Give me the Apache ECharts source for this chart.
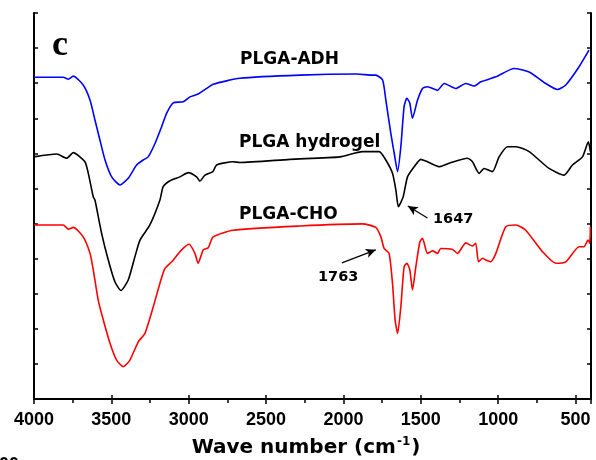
<!DOCTYPE html>
<html><head><meta charset="utf-8">
<script src="https://cdn.jsdelivr.net/npm/echarts@6/dist/echarts.min.js"></script>
<style>html,body{margin:0;padding:0;background:#fff}#c{width:596px;height:460px}</style>
</head><body><div id="c"></div>
<script>
// Wavenumbers (cm-1) and offset transmittance (arbitrary units, tick = 1)
const adhWn = [4000,3811,3778,3746,3682,3638,3606,3574,3541,3498,3444,3391,3337,3294,3262,3218,3175,3143,3100,3036,2992,2939,2884,2842,2669,2282,1915,1810,1791,1747,1726,1694,1672,1650,1629,1608,1590,1571,1554,1521,1489,1457,1392,1349,1274,1209,1156,1112,1015,897,800,692,617,563,477,413];
const adhT = [9.17,9.17,9.11,9.20,8.95,8.52,7.95,7.38,6.81,6.33,6.10,6.29,6.67,6.81,6.90,7.28,7.76,8.14,8.44,8.47,8.61,8.69,8.85,8.97,9.14,9.23,9.26,9.23,9.23,9.09,8.52,7.58,7.01,6.48,7.19,8.33,8.57,8.43,8.00,8.52,8.85,8.90,8.80,8.99,8.85,8.99,8.92,9.04,9.18,9.42,9.32,8.99,8.82,8.95,9.47,9.94];
const gelWn = [4000,3853,3789,3746,3671,3649,3617,3606,3563,3520,3477,3438,3391,3348,3315,3251,3186,3165,3121,3057,3003,2949,2928,2895,2844,2820,2714,2669,2346,2023,1877,1769,1726,1683,1661,1645,1614,1586,1543,1500,1457,1382,1317,1198,1166,1123,1091,1037,994,940,886,800,671,574,520,455,417,404];
const gelT = [6.90,6.98,6.86,7.02,6.76,6.43,5.76,5.67,4.72,3.96,3.34,3.09,3.39,4.05,4.53,4.96,5.67,6.05,6.22,6.33,6.45,6.33,6.21,6.38,6.48,6.67,6.76,6.74,6.83,6.90,7.05,7.05,6.81,6.43,5.95,5.48,5.76,6.33,6.62,6.83,6.76,6.62,6.72,6.86,6.76,6.43,6.57,6.48,6.90,7.19,7.19,7.05,6.57,6.38,6.67,6.90,7.33,7.05];
const choWn = [4000,3811,3778,3746,3682,3638,3617,3585,3552,3509,3466,3423,3380,3326,3283,3229,3186,3154,3110,3046,2997,2960,2939,2906,2874,2842,2713,2282,1877,1791,1758,1737,1705,1683,1666,1650,1629,1608,1590,1571,1554,1532,1506,1489,1457,1424,1392,1371,1295,1263,1209,1166,1145,1127,1101,1080,1048,1015,951,886,822,714,628,563,477,445,419,408,404];
const choT = [4.96,4.96,4.84,4.89,4.62,4.15,3.68,2.82,2.25,1.59,1.11,0.92,1.11,1.63,1.87,2.63,3.30,3.72,3.91,4.25,4.41,4.15,3.87,4.25,4.31,4.62,4.81,4.93,4.99,4.89,4.62,4.29,4.15,3.30,2.25,1.87,2.63,3.77,3.87,3.68,3.11,3.77,4.48,4.58,4.15,4.22,4.15,4.29,4.26,4.15,4.45,4.36,4.44,3.91,4.01,3.96,3.91,4.15,4.91,4.96,4.81,4.20,3.87,3.91,4.34,4.34,4.53,4.44,4.91];
const seriesNames = ['PLGA-ADH','PLGA hydrogel','PLGA-CHO'];
const seriesColors = ['#0000ff','#000000','#ff0000'];
// annotation arrows: [tail wn, tail T, head wn, head T]
const arrow1647 = [1457, 5.16, 1584, 5.50];
const arrow1763 = [2010, 3.88, 1791, 4.25];

const toPts = (wn, t) => wn.map((w, i) => [-w, t[i]]);
const chart = echarts.init(document.getElementById('c'), null, {renderer: 'canvas'});
const axisLine = {show: true, lineStyle: {color: '#000', width: 2}};
const lblFont = 'bold 17px "DejaVu Sans", sans-serif';
const mk = (a) => ({
  silent: true, symbol: ['none', 'arrow'], symbolSize: [7, 10],
  label: {show: false},
  lineStyle: {color: '#000', width: 1.2, type: 'solid'},
  data: [[{coord: [-a[0], a[1]]}, {coord: [-a[2], a[3]]}]]
});
const line = (i, wn, t, extra) => Object.assign({
  name: seriesNames[i], type: 'line', data: toPts(wn, t), showSymbol: false,
  smooth: 0.2, lineStyle: {color: seriesColors[i], width: 1.6}, itemStyle: {color: seriesColors[i]}
}, extra || {});
const option = {
  animation: false,
  backgroundColor: '#fff',
  grid: {left: 34, right: 5, top: 13, bottom: 61, containLabel: false},
  xAxis: [
    {type: 'value', position: 'bottom', min: -4000, max: -400, interval: 500,
     axisLine, splitLine: {show: false},
     axisTick: {show: true, inside: false, length: 5, lineStyle: {width: 1.5, color: '#000'}},
     minorTick: {show: true, splitNumber: 2, length: 3, lineStyle: {width: 1.5, color: '#000'}},
     axisLabel: {show: true, margin: 12, color: '#000', fontSize: 18, fontWeight: 'bold',
       fontFamily: '"Liberation Sans", Arial, sans-serif',
       formatter: v => (v > -450 ? '' : String(-v))}},
    {type: 'value', position: 'top', min: -4000, max: -400, interval: 250,
     axisLine, splitLine: {show: false},
     axisTick: {show: true, inside: true, length: 4, lineStyle: {width: 1.5, color: '#000'}},
     axisLabel: {show: false}},
    {type: 'value', position: 'bottom', min: -4000, max: -400, interval: 500,
     axisLine: {show: false}, splitLine: {show: false},
     axisTick: {show: true, inside: true, length: 4, lineStyle: {width: 1.5, color: '#000'}},
     axisLabel: {show: false}}
  ],
  yAxis: [
    {type: 'value', position: 'left', min: 0, max: 11, interval: 1, axisLine,
     splitLine: {show: false}, axisLabel: {show: false},
     axisTick: {show: true, inside: true, length: 4, lineStyle: {width: 1.5, color: '#000'}}},
    {type: 'value', position: 'right', min: 0, max: 11, interval: 1, axisLine,
     splitLine: {show: false}, axisLabel: {show: false},
     axisTick: {show: true, inside: true, length: 4, lineStyle: {width: 1.5, color: '#000'}}}
  ],
  series: [
    line(0, adhWn, adhT),
    line(1, gelWn, gelT, {markLine: mk(arrow1647)}),
    line(2, choWn, choT, {markLine: mk(arrow1763)})
  ],
  graphic: [
    {type: 'text', x: 60, y: 46, style: {text: 'c', font: 'bold 36px "Liberation Serif", serif', fill: '#000', align: 'center', verticalAlign: 'middle'}},
    {type: 'text', x: 240, y: 60, style: {text: seriesNames[0], font: lblFont, fill: '#000', align: 'left', verticalAlign: 'middle'}},
    {type: 'text', x: 239, y: 143, style: {text: seriesNames[1], font: lblFont, fill: '#000', align: 'left', verticalAlign: 'middle'}},
    {type: 'text', x: 239, y: 215, style: {text: seriesNames[2], font: lblFont, fill: '#000', align: 'left', verticalAlign: 'middle'}},
    {type: 'text', x: 433, y: 219, style: {text: '1647', font: 'bold 14.5px "DejaVu Sans", sans-serif', fill: '#000', align: 'left', verticalAlign: 'middle'}},
    {type: 'text', x: 318, y: 277, style: {text: '1763', font: 'bold 14.5px "DejaVu Sans", sans-serif', fill: '#000', align: 'left', verticalAlign: 'middle'}},
    {type: 'text', x: 306, y: 448, style: {
      text: '{a|Wave number (cm}{s|-1}{a|)}', align: 'center', verticalAlign: 'middle',
      rich: {
        a: {font: 'bold 20px "DejaVu Sans", sans-serif', fill: '#000', color: '#000', lineHeight: 24},
        s: {font: 'bold 12px "DejaVu Sans", sans-serif', fill: '#000', color: '#000', verticalAlign: 'top', lineHeight: 24, padding: [0, 1, 10, 1]}
      }}},
    {type: 'text', x: -1, y: 456, style: {text: '00', font: 'bold 18px "Liberation Sans", Arial, sans-serif', fill: '#000', align: 'left', verticalAlign: 'top'}}
  ]
};
chart.setOption(option);
</script>
</body></html>
